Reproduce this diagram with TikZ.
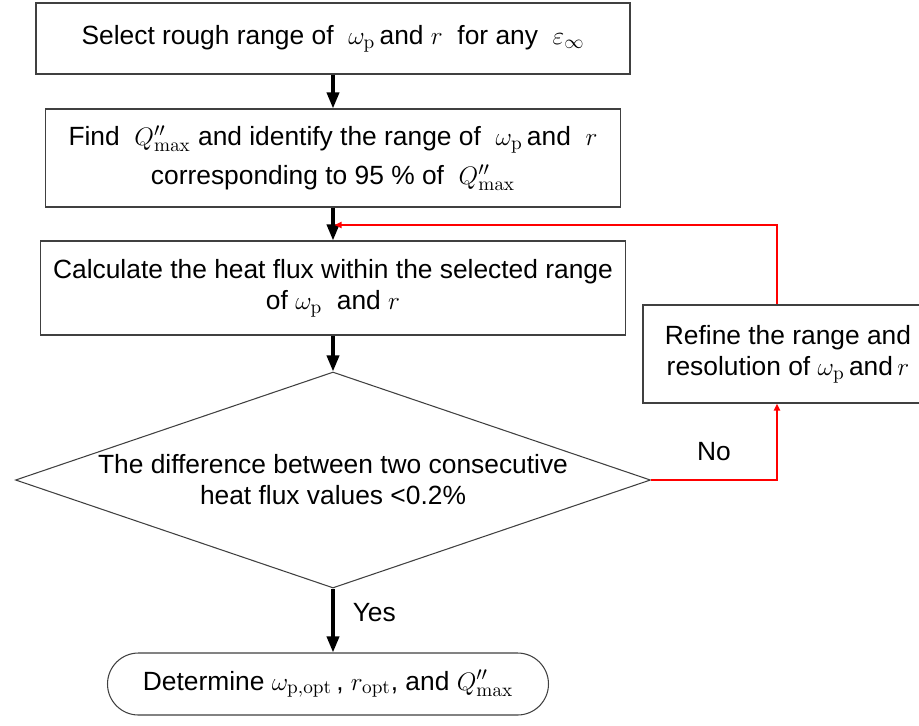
\documentclass[tikz,border=0pt]{standalone}
\usepackage[no-math]{fontspec}
\setmainfont{Liberation Sans}
\usepackage{tikz}
\usetikzlibrary{arrows.meta,positioning,calc,shapes.geometric,shapes.misc}
\usepackage{xcolor}
\definecolor{ink}{HTML}{000000}
\definecolor{frame}{HTML}{404040}
\definecolor{loopred}{HTML}{FF0000}
\tikzset{
  every node/.style={font=\fontsize{15pt}{17.6pt}\selectfont,text=ink},
  box/.style={draw=frame,line width=0.6pt,fill=white,align=center,inner sep=2pt},
  decbox/.style={box,shape=diamond,shape aspect=2.94,inner sep=0pt},
  termbox/.style={box,rounded rectangle},
  arrow/.style={-{Triangle[length=3.2mm,width=2.4mm]},line width=2pt,draw=ink},
  loopback/.style={-{Triangle[length=1.4mm,width=1.2mm]},line width=1.1pt,draw=loopred},
  tag/.style={inner sep=0pt},
}
\newcommand{\omp}{\omega_{\mathrm{p}}}
\newcommand{\Qmax}{Q''_{\max}}

\begin{document}
\begin{tikzpicture}[x=0.2mm,y=-0.2mm]
  \useasboundingbox (0,0) rectangle (919,725);
  \clip (0,0) rectangle (919,725);

  \node[box,minimum width=118.8mm,minimum height=14.2mm] (select) at (333,38.5) {Select rough range of~~$\omp$\,and $r$~~for any~~$\varepsilon_\infty$};
  \node[box,minimum width=115mm,minimum height=19.6mm] (find) at (333,158) {Find~~$\Qmax$ and identify the range of~~$\omp$\,and~~$r$\\[1.6mm] corresponding to 95 \% of~~$\Qmax$};
  \node[box,minimum width=117mm,minimum height=18.8mm] (calc) at (333,288) {Calculate the heat flux within the selected range\\of $\omp$~~and $r$};
  \node[decbox,minimum width=127mm,minimum height=43.2mm] (diff) at (333,480) {The difference between two consecutive\\heat flux values <0.2\%};
  \node[box,minimum width=58mm,minimum height=19.6mm] (refine) at (788,354) {Refine the range and\\resolution of $\omp$\,and\,$r$};
  \node[termbox,minimum width=89.6mm,minimum height=12.4mm] (final) at (328,684) {Determine $\omega_{\mathrm{p,opt}}$\,, $r_{\mathrm{opt}}$, and $\Qmax$};

  \draw[arrow] (select) -- (find);
  \draw[arrow] (find) -- (calc);
  \draw[arrow] (calc) -- (diff);
  \draw[arrow] (diff.south) -- node[tag,pos=0.37,right=3.6mm]{Yes} (diff.south |- final.north);

  % loop back when not converged
  \coordinate (merge) at (334.5,225);
  \draw[loopback] (diff.east) -| node[tag,pos=0.25,above=3.7mm]{No} ([xshift=-2.2mm]refine.south);
  \draw[loopback] ([xshift=-2.2mm]refine.north) |- (merge);
\end{tikzpicture}
\end{document}
